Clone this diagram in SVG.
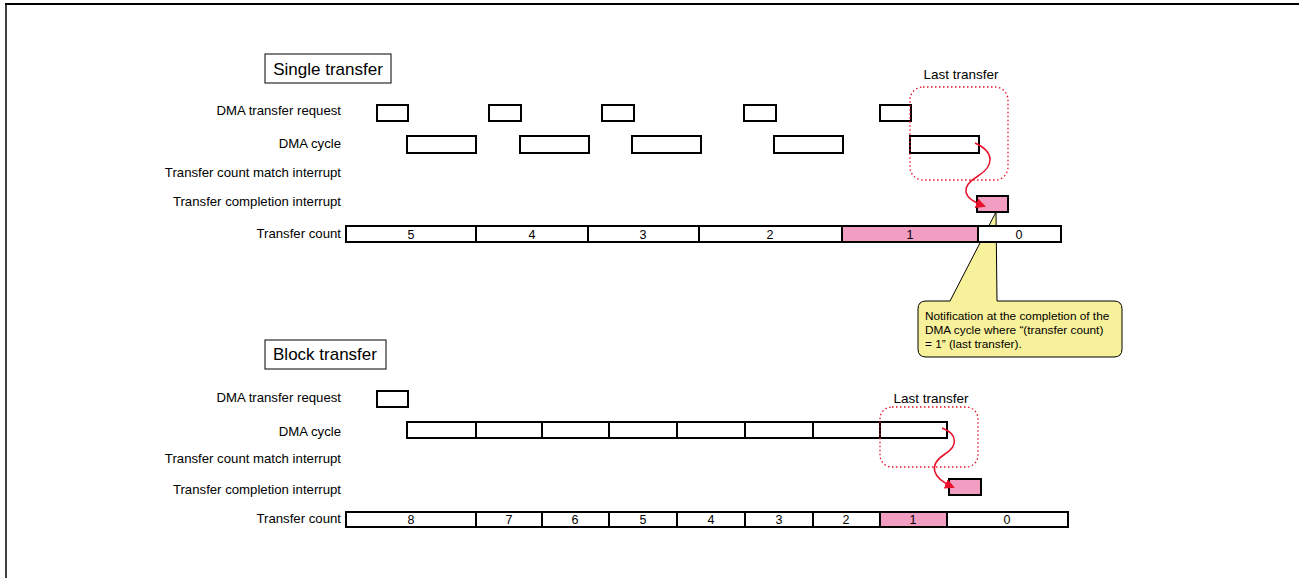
<svg xmlns="http://www.w3.org/2000/svg" width="1299" height="578" viewBox="0 0 1299 578">
<style>
.lbl{font-family:"Liberation Sans",Arial,sans-serif;font-size:13.2px;fill:#000;text-anchor:end}
.num{font-family:"Liberation Sans",Arial,sans-serif;font-size:12.5px;fill:#000;text-anchor:middle}
.lt{font-family:"Liberation Sans",Arial,sans-serif;font-size:13.5px;fill:#000;text-anchor:middle}
.ttl{font-family:"Liberation Sans",Arial,sans-serif;font-size:17px;fill:#000;text-anchor:middle}
.box{fill:#fff;stroke:#000;stroke-width:2}
.pink{fill:#F19EC2;stroke:#000;stroke-width:2}
.tbox{fill:#fff;stroke:#000;stroke-width:1}
.dot{fill:none;stroke:#E8102A;stroke-width:1.3;stroke-dasharray:1.5 2.5}
.red{fill:none;stroke:#E8102A;stroke-width:1.5}
.note{font-family:"Liberation Sans",Arial,sans-serif;font-size:11.8px;fill:#000}
</style>
<defs>
<marker id="ah" markerWidth="10" markerHeight="10" refX="8" refY="5" orient="auto" markerUnits="userSpaceOnUse">
<path d="M0,0 L10,5 L0,10 Z" fill="#E8102A"/>
</marker>
</defs>
<g id="frame">
<line x1="5" y1="4" x2="1299" y2="4" stroke="#000" stroke-width="2"/>
<line x1="6" y1="3" x2="6" y2="578" stroke="#000" stroke-width="1.5"/>
</g>
<g id="callout">
<path d="M926,301 L950,301 L996,212 L997,301 L1114,301 Q1122,301 1122,309 L1122,349 Q1122,357 1114,357 L926,357 Q918,357 918,349 L918,309 Q918,301 926,301 Z" fill="#F8F19B" stroke="#000" stroke-width="1"/>
<text class="note" x="925" y="320">Notification at the completion of the</text>
<text class="note" x="925" y="334">DMA cycle where “(transfer count)</text>
<text class="note" x="925" y="348">= 1” (last transfer).</text>
</g>
<g id="single">
<g id="single-title"><rect class="tbox" x="265" y="54" width="126" height="29"/><text class="ttl" x="328" y="75">Single transfer</text></g>
<text class="lbl" x="341" y="115">DMA transfer request</text>
<text class="lbl" x="341" y="148">DMA cycle</text>
<text class="lbl" x="341" y="177">Transfer count match interrupt</text>
<text class="lbl" x="341" y="206">Transfer completion interrupt</text>
<text class="lbl" x="341" y="238">Transfer count</text>
<g id="s-req">
<rect class="box" x="377" y="105" width="31" height="16"/>
<rect class="box" x="489" y="105" width="32" height="16"/>
<rect class="box" x="602" y="105" width="32" height="16"/>
<rect class="box" x="744" y="105" width="32" height="16"/>
<rect class="box" x="880" y="105" width="31" height="16"/>
</g>
<g id="s-cycle">
<rect class="box" x="407" y="136" width="69" height="17"/>
<rect class="box" x="520" y="136" width="69" height="17"/>
<rect class="box" x="632" y="136" width="69" height="17"/>
<rect class="box" x="774" y="136" width="69" height="17"/>
<rect class="box" x="910" y="136" width="69" height="17"/>
</g>
<rect id="s-done" class="pink" x="977" y="196" width="31" height="16"/>
<g id="s-count">
<rect class="box" x="346" y="226" width="130" height="16"/><text class="num" x="411" y="238.5">5</text>
<rect class="box" x="476" y="226" width="112" height="16"/><text class="num" x="532" y="238.5">4</text>
<rect class="box" x="588" y="226" width="111" height="16"/><text class="num" x="643" y="238.5">3</text>
<rect class="box" x="699" y="226" width="143" height="16"/><text class="num" x="770" y="238.5">2</text>
<rect class="pink" x="842" y="226" width="136" height="16"/><text class="num" x="910" y="238.5">1</text>
<rect class="box" x="978" y="226" width="83" height="16"/><text class="num" x="1019" y="238.5">0</text>
</g>
<g id="s-last">
<rect class="dot" x="910" y="87" width="98" height="93" rx="13"/>
<text class="lt" x="961" y="79">Last transfer</text>
</g>
</g>
<g id="block">
<g id="block-title"><rect class="tbox" x="265" y="340" width="121" height="29"/><text class="ttl" x="325" y="360">Block transfer</text></g>
<text class="lbl" x="341" y="402">DMA transfer request</text>
<text class="lbl" x="341" y="436">DMA cycle</text>
<text class="lbl" x="341" y="463">Transfer count match interrupt</text>
<text class="lbl" x="341" y="494">Transfer completion interrupt</text>
<text class="lbl" x="341" y="523">Transfer count</text>
<rect id="b-req" class="box" x="377" y="391" width="31" height="16"/>
<g id="b-cycle">
<rect class="box" x="407" y="422" width="69" height="16"/>
<rect class="box" x="476" y="422" width="66" height="16"/>
<rect class="box" x="542" y="422" width="67" height="16"/>
<rect class="box" x="609" y="422" width="68" height="16"/>
<rect class="box" x="677" y="422" width="68" height="16"/>
<rect class="box" x="745" y="422" width="68" height="16"/>
<rect class="box" x="813" y="422" width="67" height="16"/>
<rect class="box" x="880" y="422" width="67" height="16"/>
</g>
<rect id="b-done" class="pink" x="949" y="479" width="32" height="16"/>
<g id="b-count">
<rect class="box" x="346" y="512" width="130" height="15"/><text class="num" x="411" y="524">8</text>
<rect class="box" x="476" y="512" width="66" height="15"/><text class="num" x="509" y="524">7</text>
<rect class="box" x="542" y="512" width="67" height="15"/><text class="num" x="575" y="524">6</text>
<rect class="box" x="609" y="512" width="68" height="15"/><text class="num" x="643" y="524">5</text>
<rect class="box" x="677" y="512" width="68" height="15"/><text class="num" x="711" y="524">4</text>
<rect class="box" x="745" y="512" width="68" height="15"/><text class="num" x="779" y="524">3</text>
<rect class="box" x="813" y="512" width="67" height="15"/><text class="num" x="846" y="524">2</text>
<rect class="pink" x="880" y="512" width="67" height="15"/><text class="num" x="913" y="524">1</text>
<rect class="box" x="947" y="512" width="121" height="15"/><text class="num" x="1007" y="524">0</text>
</g>
<g id="b-last">
<rect class="dot" x="880" y="407" width="98" height="60" rx="12"/>
<text class="lt" x="931" y="403">Last transfer</text>
</g>
</g>
<g id="connectors">
<path class="red" d="M975,143 C995,152 994,166 978,176 C960,187 962,198 984,206" marker-end="url(#ah)"/>
<path class="red" d="M942,428 C958,434 958,446 945,454 C928,465 932,478 953,487" marker-end="url(#ah)"/>
</g>
</svg>
